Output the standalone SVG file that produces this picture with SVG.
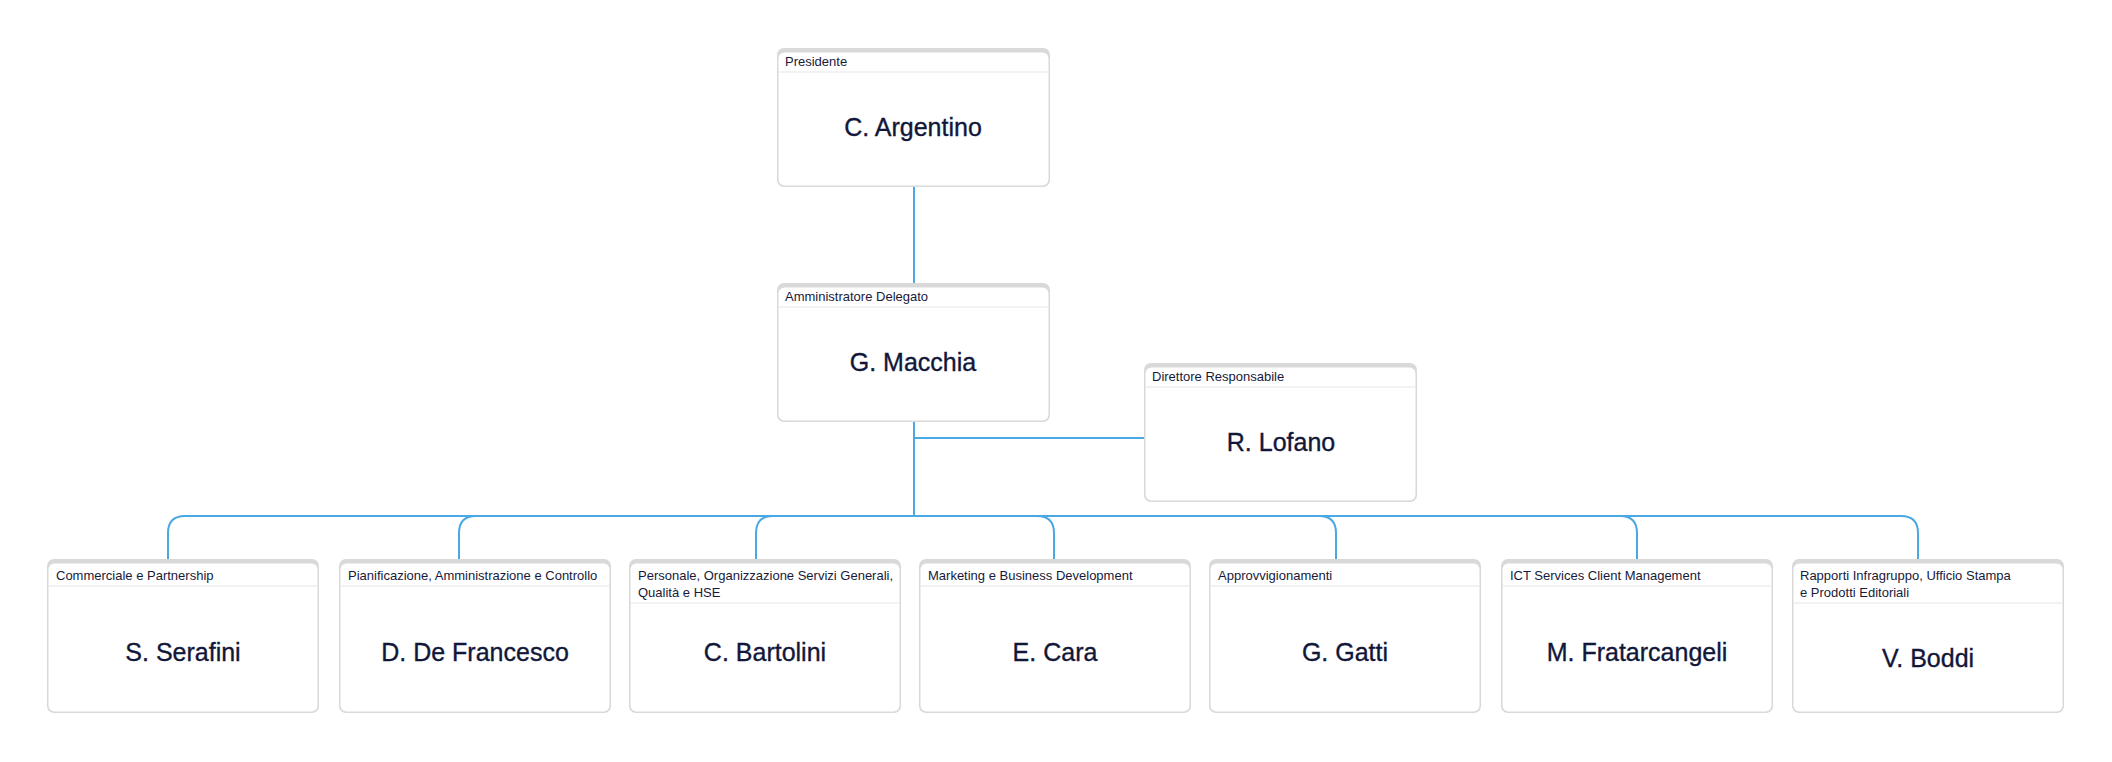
<svg xmlns="http://www.w3.org/2000/svg" width="2112" height="762" viewBox="0 0 2112 762">
<defs>
<style>
.frame{fill:#d9d9d9}
.body{fill:#ffffff}
.sep{stroke:#e6e6e6;stroke-width:1.2}
.role{font-family:"Liberation Sans",Arial,sans-serif;font-size:13px;fill:#171a3a}
.name{font-family:"Liberation Sans",Arial,sans-serif;font-size:25px;fill:#12173a;stroke:#12173a;stroke-width:0.35;text-anchor:middle}
.conn{fill:none;stroke:#4aa8e5;stroke-width:2}
</style>
</defs>
<rect width="2112" height="762" fill="#ffffff"/>
<g id="connectors">
<path class="conn" d="M914 187 V283"/>
<path class="conn" d="M914 422 V516"/>
<path class="conn" d="M914 438 H1144"/>
<path class="conn" d="M914 516 H185 Q168 516 168 533 V559"/>
<path class="conn" d="M914 516 H476 Q459 516 459 533 V559"/>
<path class="conn" d="M914 516 H773 Q756 516 756 533 V559"/>
<path class="conn" d="M914 516 H1037 Q1054 516 1054 533 V559"/>
<path class="conn" d="M914 516 H1319 Q1336 516 1336 533 V559"/>
<path class="conn" d="M914 516 H1620 Q1637 516 1637 533 V559"/>
<path class="conn" d="M914 516 H1901 Q1918 516 1918 533 V559"/>
</g>
<g id="presidente">
<rect class="frame" x="777" y="48" width="273" height="139" rx="7"/>
<rect class="body" x="778.5" y="52.5" width="270" height="133" rx="6"/>
<line class="sep" x1="778.5" y1="72" x2="1048.5" y2="72"/>
<text class="role" x="785" y="66">Presidente</text>
<text class="name" x="913" y="136">C. Argentino</text>
</g>
<g id="amministratore">
<rect class="frame" x="777" y="283" width="273" height="139" rx="7"/>
<rect class="body" x="778.5" y="287.5" width="270" height="133" rx="6"/>
<line class="sep" x1="778.5" y1="307" x2="1048.5" y2="307"/>
<text class="role" x="785" y="301">Amministratore Delegato</text>
<text class="name" x="913" y="371">G. Macchia</text>
</g>
<g id="direttore">
<rect class="frame" x="1144" y="363" width="273" height="139" rx="7"/>
<rect class="body" x="1145.5" y="367.5" width="270" height="133" rx="6"/>
<line class="sep" x1="1145.5" y1="387" x2="1415.5" y2="387"/>
<text class="role" x="1152" y="381">Direttore Responsabile</text>
<text class="name" x="1281" y="451">R. Lofano</text>
</g>
<g id="commerciale">
<rect class="frame" x="47" y="559" width="272" height="154" rx="7"/>
<rect class="body" x="48.5" y="563.5" width="269" height="148" rx="6"/>
<line class="sep" x1="48.5" y1="586" x2="317.5" y2="586"/>
<text class="role" x="56" y="580">Commerciale e Partnership</text>
<text class="name" x="183" y="661">S. Serafini</text>
</g>
<g id="pianificazione">
<rect class="frame" x="339" y="559" width="272" height="154" rx="7"/>
<rect class="body" x="340.5" y="563.5" width="269" height="148" rx="6"/>
<line class="sep" x1="340.5" y1="586" x2="609.5" y2="586"/>
<text class="role" x="348" y="580">Pianificazione, Amministrazione e Controllo</text>
<text class="name" x="475" y="661">D. De Francesco</text>
</g>
<g id="personale">
<rect class="frame" x="629" y="559" width="272" height="154" rx="7"/>
<rect class="body" x="630.5" y="563.5" width="269" height="148" rx="6"/>
<line class="sep" x1="630.5" y1="603" x2="899.5" y2="603"/>
<text class="role" x="638" y="580">Personale, Organizzazione Servizi Generali,</text>
<text class="role" x="638" y="597">Qualità e HSE</text>
<text class="name" x="765" y="661">C. Bartolini</text>
</g>
<g id="marketing">
<rect class="frame" x="919" y="559" width="272" height="154" rx="7"/>
<rect class="body" x="920.5" y="563.5" width="269" height="148" rx="6"/>
<line class="sep" x1="920.5" y1="586" x2="1189.5" y2="586"/>
<text class="role" x="928" y="580">Marketing e Business Development</text>
<text class="name" x="1055" y="661">E. Cara</text>
</g>
<g id="approvvigionamenti">
<rect class="frame" x="1209" y="559" width="272" height="154" rx="7"/>
<rect class="body" x="1210.5" y="563.5" width="269" height="148" rx="6"/>
<line class="sep" x1="1210.5" y1="586" x2="1479.5" y2="586"/>
<text class="role" x="1218" y="580">Approvvigionamenti</text>
<text class="name" x="1345" y="661">G. Gatti</text>
</g>
<g id="ict">
<rect class="frame" x="1501" y="559" width="272" height="154" rx="7"/>
<rect class="body" x="1502.5" y="563.5" width="269" height="148" rx="6"/>
<line class="sep" x1="1502.5" y1="586" x2="1771.5" y2="586"/>
<text class="role" x="1510" y="580">ICT Services Client Management</text>
<text class="name" x="1637" y="661">M. Fratarcangeli</text>
</g>
<g id="rapporti">
<rect class="frame" x="1792" y="559" width="272" height="154" rx="7"/>
<rect class="body" x="1793.5" y="563.5" width="269" height="148" rx="6"/>
<line class="sep" x1="1793.5" y1="603" x2="2062.5" y2="603"/>
<text class="role" x="1800" y="580">Rapporti Infragruppo, Ufficio Stampa</text>
<text class="role" x="1800" y="597">e Prodotti Editoriali</text>
<text class="name" x="1928" y="667">V. Boddi</text>
</g>
</svg>
